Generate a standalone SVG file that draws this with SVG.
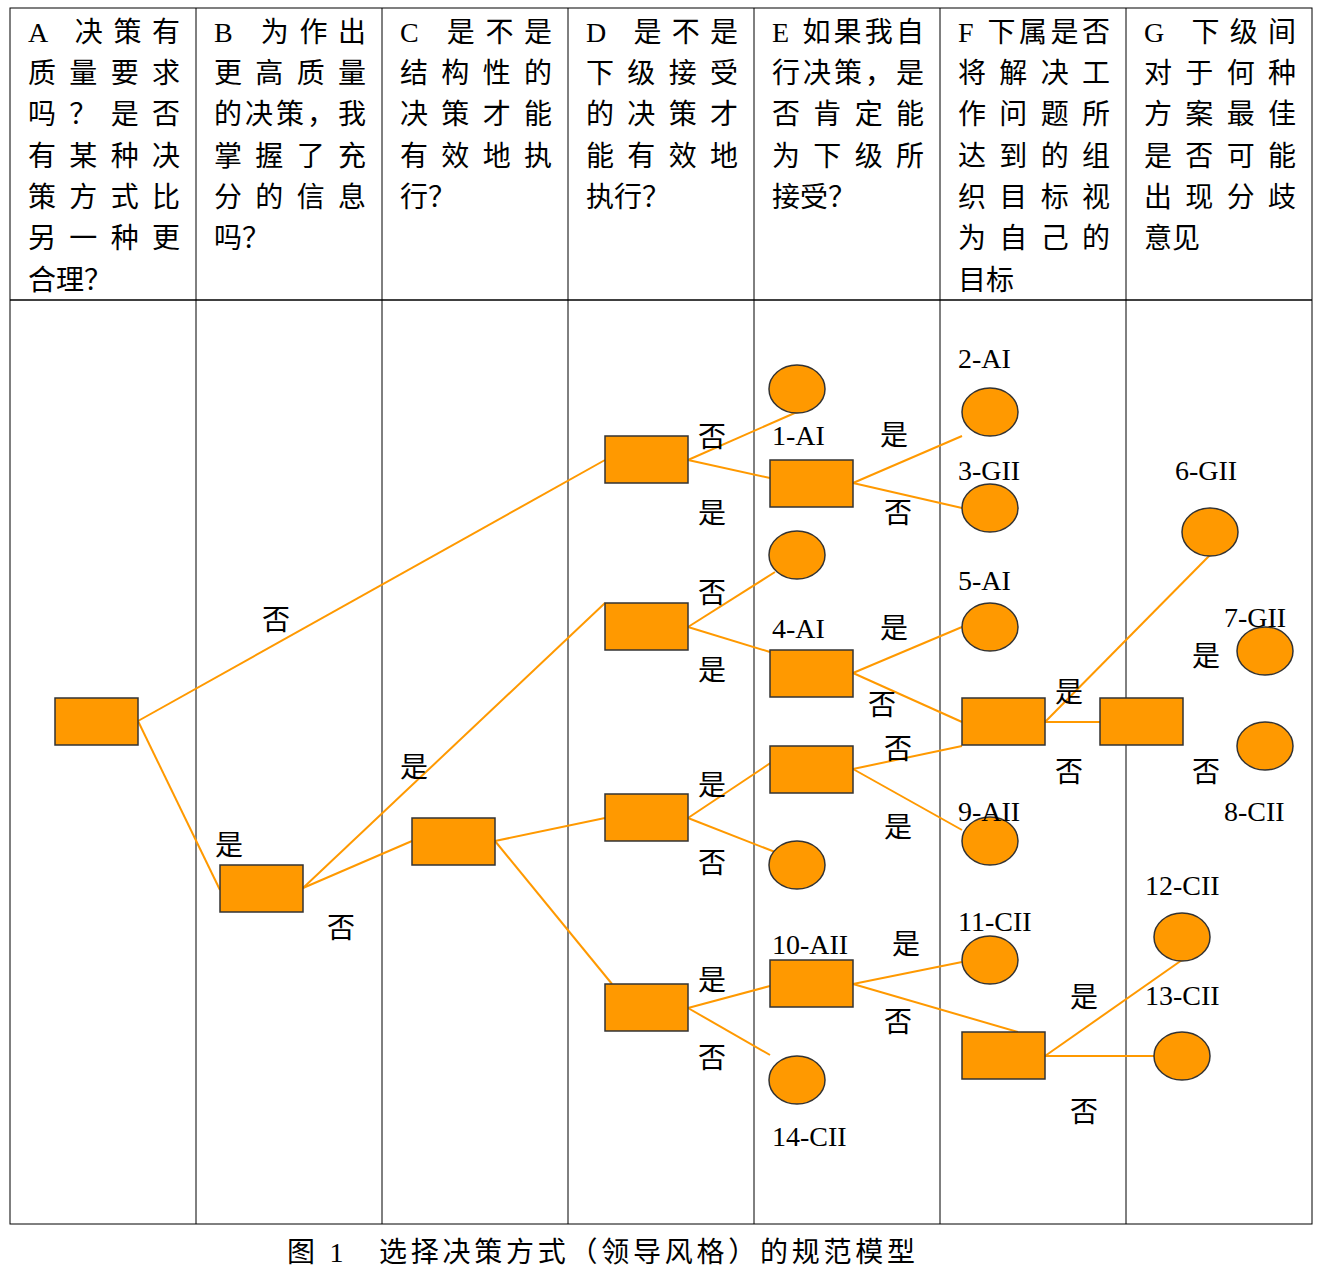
<svg xmlns="http://www.w3.org/2000/svg" width="1344" height="1278" viewBox="0 0 1344 1278">
<style>
text{font-family:"Liberation Serif","Noto Sans CJK SC",serif;font-size:28px;fill:#000}
.h{font-size:28px}
.b{fill:#FF9900;stroke:#333;stroke-width:1.5}
.c line{stroke:#FF9900;stroke-width:2}
.g{stroke:#000;stroke-width:1;fill:none}
</style>
<rect width="1344" height="1278" fill="#fff"/>
<g class="g">
<rect x="10" y="8" width="1302" height="1216"/>
<line x1="10" y1="300" x2="1312" y2="300" stroke-width="1.5"/>
<line x1="196" y1="8" x2="196" y2="1224"/><line x1="382" y1="8" x2="382" y2="1224"/><line x1="568" y1="8" x2="568" y2="1224"/><line x1="754" y1="8" x2="754" y2="1224"/><line x1="940" y1="8" x2="940" y2="1224"/><line x1="1126" y1="8" x2="1126" y2="1224"/>
</g>
<g id="headers" class="h">
<text x="28" y="42" textLength="152">A 决策有</text><text x="28" y="83" textLength="152">质量要求</text><text x="28" y="124" textLength="152">吗？是否</text><text x="28" y="166" textLength="152">有某种决</text><text x="28" y="207" textLength="152">策方式比</text><text x="28" y="248" textLength="152">另一种更</text><text x="28" y="290">合理？</text>
<text x="214" y="42" textLength="152">B 为作出</text><text x="214" y="83" textLength="152">更高质量</text><text x="214" y="124" textLength="152">的决策，我</text><text x="214" y="166" textLength="152">掌握了充</text><text x="214" y="207" textLength="152">分的信息</text><text x="214" y="248">吗？</text>
<text x="400" y="42" textLength="152">C 是不是</text><text x="400" y="83" textLength="152">结构性的</text><text x="400" y="124" textLength="152">决策才能</text><text x="400" y="166" textLength="152">有效地执</text><text x="400" y="207">行？</text>
<text x="586" y="42" textLength="152">D 是不是</text><text x="586" y="83" textLength="152">下级接受</text><text x="586" y="124" textLength="152">的决策才</text><text x="586" y="166" textLength="152">能有效地</text><text x="586" y="207">执行？</text>
<text x="772" y="42" textLength="152">E 如果我自</text><text x="772" y="83" textLength="152">行决策，是</text><text x="772" y="124" textLength="152">否肯定能</text><text x="772" y="166" textLength="152">为下级所</text><text x="772" y="207">接受？</text>
<text x="958" y="42" textLength="152">F 下属是否</text><text x="958" y="83" textLength="152">将解决工</text><text x="958" y="124" textLength="152">作问题所</text><text x="958" y="166" textLength="152">达到的组</text><text x="958" y="207" textLength="152">织目标视</text><text x="958" y="248" textLength="152">为自己的</text><text x="958" y="290">目标</text>
<text x="1144" y="42" textLength="152">G 下级间</text><text x="1144" y="83" textLength="152">对于何种</text><text x="1144" y="124" textLength="152">方案最佳</text><text x="1144" y="166" textLength="152">是否可能</text><text x="1144" y="207" textLength="152">出现分歧</text><text x="1144" y="248">意见</text>
</g>
<g id="connectors" class="c">
<line x1="138" y1="721" x2="605" y2="460"/><line x1="138" y1="721" x2="220" y2="890"/>
<line x1="303" y1="888" x2="605" y2="603"/><line x1="303" y1="888" x2="412" y2="841"/>
<line x1="495" y1="841" x2="605" y2="818"/><line x1="495" y1="841" x2="612" y2="984"/>
<line x1="688" y1="460" x2="797" y2="412"/><line x1="688" y1="460" x2="770" y2="478"/>
<line x1="688" y1="627" x2="775" y2="572"/><line x1="688" y1="627" x2="770" y2="652"/>
<line x1="688" y1="818" x2="775" y2="760"/><line x1="688" y1="818" x2="775" y2="852"/>
<line x1="688" y1="1008" x2="770" y2="986"/><line x1="688" y1="1008" x2="770" y2="1055"/>
<line x1="853" y1="483" x2="962" y2="436"/><line x1="853" y1="483" x2="962" y2="508"/>
<line x1="853" y1="673" x2="962" y2="627"/><line x1="853" y1="673" x2="962" y2="722"/>
<line x1="853" y1="769" x2="962" y2="746"/><line x1="853" y1="769" x2="962" y2="830"/>
<line x1="853" y1="984" x2="962" y2="962"/><line x1="853" y1="984" x2="1018" y2="1032"/>
<line x1="1045" y1="722" x2="1210" y2="555"/><line x1="1045" y1="722" x2="1100" y2="722"/>
<line x1="1045" y1="1056" x2="1182" y2="960"/><line x1="1045" y1="1056" x2="1155" y2="1056"/>
</g>
<g id="rects">
<rect class="b" x="55" y="698" width="83" height="47"/><rect class="b" x="220" y="865" width="83" height="47"/><rect class="b" x="412" y="818" width="83" height="47"/>
<rect class="b" x="605" y="436" width="83" height="47"/><rect class="b" x="605" y="603" width="83" height="47"/><rect class="b" x="605" y="794" width="83" height="47"/><rect class="b" x="605" y="984" width="83" height="47"/>
<rect class="b" x="770" y="460" width="83" height="47"/><rect class="b" x="770" y="650" width="83" height="47"/><rect class="b" x="770" y="746" width="83" height="47"/><rect class="b" x="770" y="960" width="83" height="47"/>
<rect class="b" x="962" y="698" width="83" height="47"/><rect class="b" x="1100" y="698" width="83" height="47"/><rect class="b" x="962" y="1032" width="83" height="47"/>
</g>
<g id="circles">
<ellipse class="b" cx="797" cy="389" rx="28" ry="24"/><ellipse class="b" cx="797" cy="555" rx="28" ry="24"/><ellipse class="b" cx="797" cy="865" rx="28" ry="24"/><ellipse class="b" cx="797" cy="1080" rx="28" ry="24"/>
<ellipse class="b" cx="990" cy="412" rx="28" ry="24"/><ellipse class="b" cx="990" cy="508" rx="28" ry="24"/><ellipse class="b" cx="990" cy="627" rx="28" ry="24"/><ellipse class="b" cx="990" cy="841" rx="28" ry="24"/><ellipse class="b" cx="990" cy="960" rx="28" ry="24"/>
<ellipse class="b" cx="1210" cy="532" rx="28" ry="24"/><ellipse class="b" cx="1265" cy="651" rx="28" ry="24"/><ellipse class="b" cx="1265" cy="746" rx="28" ry="24"/><ellipse class="b" cx="1182" cy="937" rx="28" ry="24"/><ellipse class="b" cx="1182" cy="1056" rx="28" ry="24"/>
</g>
<g id="labels">
<text x="262" y="630">否</text><text x="215" y="855">是</text><text x="327" y="938">否</text><text x="400" y="777">是</text>
<text x="698" y="447">否</text><text x="698" y="523">是</text><text x="698" y="603">否</text><text x="698" y="680">是</text><text x="698" y="795">是</text><text x="698" y="873">否</text><text x="698" y="990">是</text><text x="698" y="1068">否</text>
<text x="772" y="445">1-AI</text><text x="880" y="445">是</text><text x="884" y="523">否</text><text x="772" y="638">4-AI</text><text x="880" y="638">是</text><text x="868" y="715">否</text><text x="884" y="759">否</text><text x="884" y="837">是</text><text x="772" y="954">10-AII</text><text x="892" y="954">是</text><text x="884" y="1032">否</text><text x="772" y="1146">14-CII</text>
<text x="958" y="368">2-AI</text><text x="958" y="480">3-GII</text><text x="958" y="590">5-AI</text><text x="958" y="821">9-AII</text><text x="958" y="931">11-CII</text>
<text x="1055" y="702">是</text><text x="1055" y="782">否</text><text x="1070" y="1007">是</text><text x="1070" y="1122">否</text>
<text x="1175" y="480">6-GII</text><text x="1224" y="627">7-GII</text><text x="1192" y="666">是</text><text x="1192" y="782">否</text><text x="1224" y="821">8-CII</text><text x="1145" y="895">12-CII</text><text x="1145" y="1005">13-CII</text>
</g>
<text x="287" y="1262" textLength="628">图 1　选择决策方式（领导风格）的规范模型</text>
</svg>
